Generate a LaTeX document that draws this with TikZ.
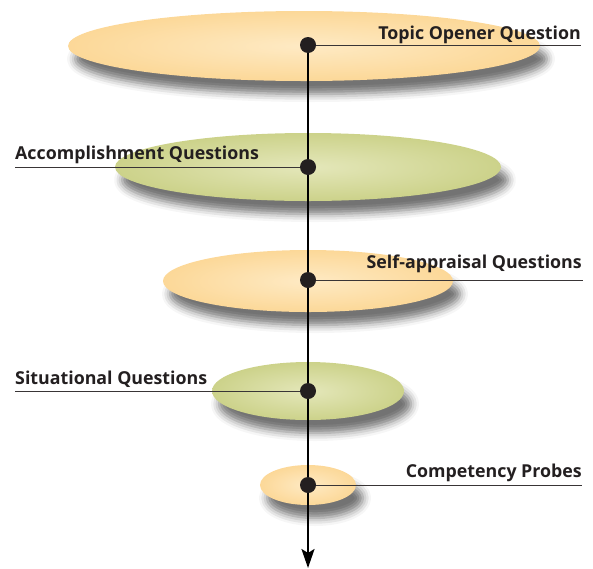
\documentclass[tikz,border=0pt]{standalone}
\usepackage{fontspec}
\setmainfont{Open Sans}
\usetikzlibrary{arrows.meta}
\usetikzlibrary{shapes.geometric}
\usetikzlibrary{shadows.blur}
\usetikzlibrary{positioning}

\definecolor{peach}{RGB}{252,216,152}
\definecolor{peachlight}{RGB}{254,234,196}
\definecolor{olive}{RGB}{204,210,138}
\definecolor{olivelight}{RGB}{228,231,186}
\definecolor{ink}{RGB}{35,31,32}

\begin{document}
\begin{tikzpicture}
    [
        x = 1pt, y = -1pt,
        disc/.style = {ellipse, inner sep = 0pt,
            blur shadow = {shadow xshift = 7pt, shadow yshift = -13pt,
                shadow blur radius = 8pt, shadow opacity = 55}},
        peachdisc/.style = {disc, inner color = peachlight, outer color = peach},
        olivedisc/.style = {disc, inner color = olivelight, outer color = olive},
        dot/.style = {circle, fill = ink, minimum size = 16pt, inner sep = 0pt},
        qtext/.style = {inner sep = 0pt, text = ink, font = \fontsize{17.8}{21}\selectfont\bfseries},
        leader/.style = {draw = ink!90, line width = 0.9pt}
    ]
    \useasboundingbox (0,0) rectangle (593,568);

    % Draw the discs, widest on top:
    \node [peachdisc, minimum width = 472pt, minimum height = 70pt] (topicdisc)  at (304, 46)  {};
    \node [olivedisc, minimum width = 386pt, minimum height = 68pt] (accompdisc) at (308, 167) {};
    \node [peachdisc, minimum width = 290pt, minimum height = 62pt] (selfdisc)   at (308, 281) {};
    \node [olivedisc, minimum width = 192pt, minimum height = 58pt] (situdisc)   at (308, 391) {};
    \node [peachdisc, minimum width = 96pt,  minimum height = 40pt] (compdisc)   at (308, 485) {};

    % Draw the stops on the axis:
    \coordinate (topicdot)  at (308, 45);
    \coordinate (accompdot) at (308, 167);
    \coordinate (selfdot)   at (308, 280);
    \coordinate (situdot)   at (308, 391);
    \coordinate (compdot)   at (308, 485);
    \coordinate (axisend)   at (308, 568);

    \draw [line width = 2.5pt, -{Stealth[length = 19pt, width = 13pt, inset = 4pt]}]
        (topicdot) -- (axisend);

    % Draw the leaders and their texts:
    \coordinate (topicend)  at (581, 45);
    \coordinate (accompend) at (15, 167);
    \coordinate (selfend)   at (583, 280);
    \coordinate (situend)   at (15, 391);
    \coordinate (compend)   at (582, 485);

    \draw [leader] (topicdot)  -- (topicend);
    \draw [leader] (accompdot) -- (accompend);
    \draw [leader] (selfdot)   -- (selfend);
    \draw [leader] (situdot)   -- (situend);
    \draw [leader] (compdot)   -- (compend);

    \foreach \stop in {topicdot, accompdot, selfdot, situdot, compdot}
        \node [dot] at (\stop) {};

    \node [qtext, anchor = base east] (topictext)  at (581, 39)  {Topic Opener Question};
    \node [qtext, anchor = base west] (accomptext) at (15, 159)  {Accomplishment Questions};
    \node [qtext, anchor = base east] (selftext)   at (582, 268) {Self-appraisal Questions};
    \node [qtext, anchor = base west] (situtext)   at (15, 384)  {Situational Questions};
    \node [qtext, anchor = base east] (comptext)   at (582, 477) {Competency Probes};
\end{tikzpicture}
\end{document}
